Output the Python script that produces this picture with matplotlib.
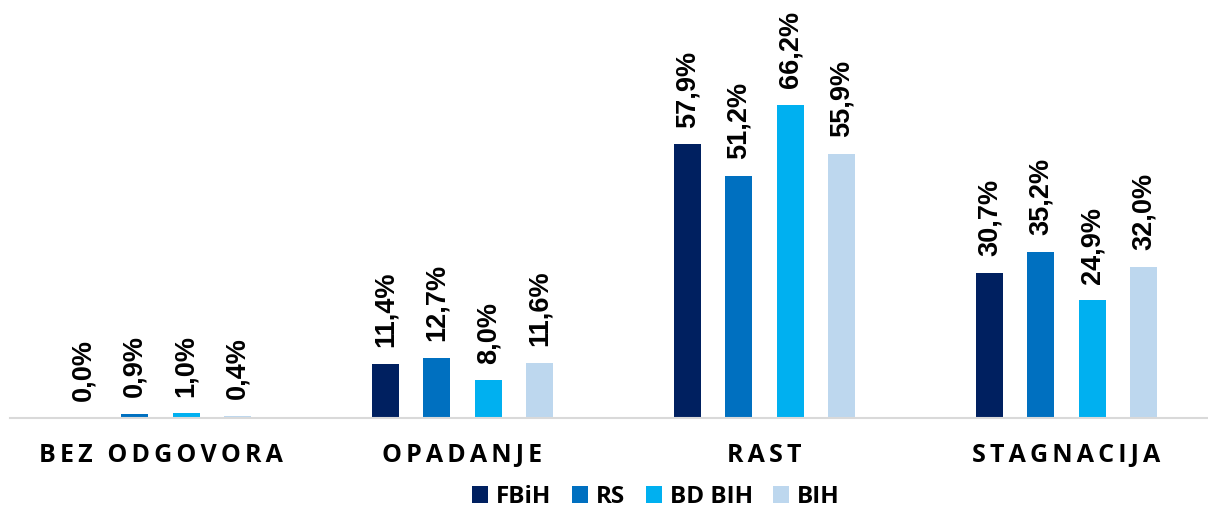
import matplotlib.pyplot as plt
import numpy as np

categories = ['BEZ ODGOVORA', 'OPADANJE', 'RAST', 'STAGNACIJA']
series = ['FBiH', 'RS', 'BD BIH', 'BIH']
fbih = [0.0, 11.4, 57.9, 30.7]
rs = [0.9, 12.7, 51.2, 35.2]
bd_bih = [1.0, 8.0, 66.2, 24.9]
bih = [0.4, 11.6, 55.9, 32.0]
colors = ['#002060', '#0070C0', '#00B0F0', '#BDD7EE']


def spaced(text):
    # fake letter spacing with six-per-em spaces
    return '\u2006'.join(text)


def main():
    plt.rcParams['font.family'] = ['Open Sans', 'DejaVu Sans']
    fig = plt.figure(figsize=(12.08, 5.07), dpi=100)
    ax = fig.add_axes([9.5 / 1208, 0.1755, 1.0, 0.653])

    x = np.arange(len(categories))
    width = 0.089
    offsets = [-0.255, -0.085, 0.085, 0.255]
    for vals, name, col, off in zip([fbih, rs, bd_bih, bih], series, colors, offsets):
        bars = ax.bar(x + off, vals, width, color=col, label=name)
        for b, v in zip(bars, vals):
            ax.annotate(f'{v:.1f}%'.replace('.', ','),
                        (b.get_x() + b.get_width() / 2, v), xytext=(0, 12),
                        textcoords='offset points', rotation=90, ha='center',
                        va='bottom', fontsize=19.5, fontweight='bold',
                        family=['Liberation Sans', 'DejaVu Sans'], annotation_clip=False)

    ax.set_xlim(-0.5, 3.5)
    ax.set_ylim(0, 70)
    ax.set_yticks([])
    ax.set_xticks(x)
    ax.set_xticklabels([spaced(c) for c in categories], fontsize=18, fontweight='bold')
    ax.tick_params(axis='x', length=0, pad=18)
    for s in ['top', 'right', 'left']:
        ax.spines[s].set_visible(False)
    ax.spines['bottom'].set_color('#D9D9D9')
    ax.spines['bottom'].set_linewidth(1.5)

    fig.legend(loc='center', bbox_to_anchor=(656 / 1208, 1 - 497 / 507), ncol=4, frameon=False,
               prop={'size': 17.5, 'weight': 'bold'}, handlelength=0.66, handleheight=0.66,
               handletextpad=0.32, columnspacing=0.85, borderaxespad=0, borderpad=0)
    fig.savefig('out.png', dpi=100)


if __name__ == '__main__':
    main()
